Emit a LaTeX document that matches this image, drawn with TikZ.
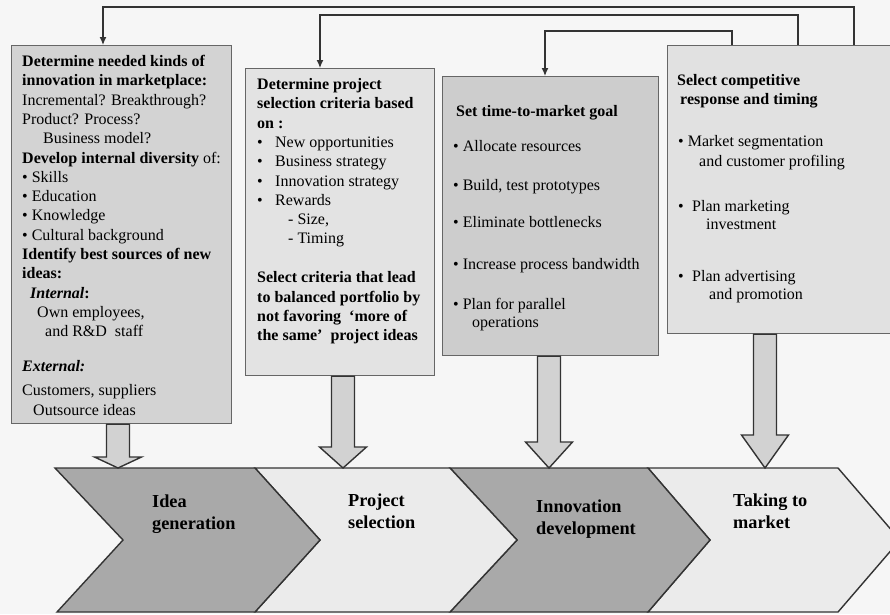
\documentclass[tikz,border=0pt]{standalone}
\usepackage{fontspec}
\setmainfont{Liberation Serif}
\usetikzlibrary{arrows.meta,calc}

\definecolor{bgcol}{HTML}{F6F6F6}
\definecolor{edgecol}{HTML}{666666}
\definecolor{linecol}{HTML}{333333}
\definecolor{boxA}{HTML}{D3D3D3}
\definecolor{boxB}{HTML}{E3E3E3}
\definecolor{boxC}{HTML}{CDCDCD}
\definecolor{boxD}{HTML}{E1E1E1}
\definecolor{chevdark}{HTML}{A9A9A9}
\definecolor{chevlight}{HTML}{EBEBEB}
\definecolor{arrowfill}{HTML}{D2D2D2}

\tikzset{
  infobox/.style={draw=edgecol, line width=1.2pt, inner sep=0pt, anchor=north west},
  boxtext/.style={anchor=base west, inner sep=0pt, text=black},
  feedback/.style={draw=linecol, line width=1.3pt, -{Latex[length=8pt,width=7pt]}},
  chevron/.style={draw=linecol, line width=1.4pt, line join=miter},
  stagelabel/.style={anchor=base west, inner sep=0pt, align=left,
    font=\fontsize{18.3}{22}\selectfont\bfseries},
  fatarrow/.style={draw=linecol, line width=1.4pt, fill=arrowfill, line join=miter}
}

% block arrow from the bottom of a box down to a point on a stage
% #1 box name, #2 tip coordinate, #3 head height
\newcommand{\fatdown}[3]{%
  \draw[fatarrow]
    ($(#1.south -| #2)+(-11.5,0)$) -- ($(#2)+(-11.5,-#3)$) --
    ($(#2)+(-23.5,-#3)$) -- (#2) -- ($(#2)+(23.5,-#3)$) --
    ($(#2)+(11.5,-#3)$) -- ($(#1.south -| #2)+(11.5,0)$) -- cycle;}

\newcommand{\txtfont}{\fontsize{16}{19.3}\selectfont}

\begin{document}
\begin{tikzpicture}[x=1pt,y=-1pt]
  % page background
  \fill[bgcol] (0,0) rectangle (890,614);
  \useasboundingbox (0,0) rectangle (890,614);

  % the four activity boxes
  \node[infobox, fill=boxA, minimum width=220pt, minimum height=378pt] (box1) at (11,45) {};
  \node[infobox, fill=boxB, minimum width=189pt, minimum height=307pt] (box2) at (245,68) {};
  \node[infobox, fill=boxC, minimum width=216pt, minimum height=279pt] (box3) at (442,76) {};
  \node[infobox, fill=boxD, minimum width=230pt, minimum height=288pt] (box4) at (667,45) {};

  % box texts
  \node[boxtext] (t1) at (22,66.5) {\parbox[t]{215pt}{\txtfont\raggedright
    \textbf{Determine needed kinds of}\\
    \textbf{innovation in marketplace:}\\
    Incremental? Breakthrough?\\
    Product? Process?\\
    \hspace*{21pt}Business model?\\
    \textbf{Develop internal diversity} of:\\
    • Skills\\
    • Education\\
    • Knowledge\\
    • Cultural background\\
    \textbf{Identify best sources of new}\\
    \textbf{ideas:}\\
    \hspace*{8pt}\textbf{\textit{Internal}:}\\
    \hspace*{15pt}Own employees,\\
    \hspace*{23pt}and R\&D~ staff\\[15.7pt]
    \textbf{\textit{External:}}\\[4.7pt]
    Customers, suppliers\\
    \hspace*{11pt}Outsource ideas}};

  \node[boxtext] (t2) at (257,89.5) {\parbox[t]{185pt}{\txtfont\raggedright
    \textbf{Determine project}\\
    \textbf{selection criteria based}\\
    \textbf{on :}\\
    \makebox[18pt][l]{•}New opportunities\\
    \makebox[18pt][l]{•}Business strategy\\
    \makebox[18pt][l]{•}Innovation strategy\\
    \makebox[18pt][l]{•}Rewards\\
    \hspace*{31pt}- Size,\\
    \hspace*{31pt}- Timing\\[19.7pt]
    \textbf{Select criteria that lead}\\
    \textbf{to balanced portfolio by}\\
    \textbf{not favoring~ ‘more of}\\
    \textbf{the same’~ project ideas}}};

  \node[boxtext] (t3) at (453,116) {\parbox[t]{205pt}{\txtfont\raggedright
    \hspace*{3pt}\textbf{Set time-to-market goal}\\[15.7pt]
    • Allocate resources\\[19.7pt]
    • Build, test prototypes\\[17.7pt]
    • Eliminate bottlenecks\\[22.7pt]
    • Increase process bandwidth\\[20.7pt]
    • Plan for parallel\\[-1.3pt]
    \hspace*{19pt}operations}};

  \node[boxtext] (t4) at (677,85.5) {\parbox[t]{210pt}{\txtfont\raggedright
    \textbf{Select competitive}\\
    \hspace*{3pt}\textbf{response and timing}\\[22.7pt]
    \hspace*{1pt}• Market segmentation\\[0.7pt]
    \hspace*{22pt}and customer profiling\\[25.7pt]
    \hspace*{1pt}\makebox[14pt][l]{•}Plan marketing\\[-1.3pt]
    \hspace*{29pt}investment\\[32.7pt]
    \hspace*{1pt}\makebox[14pt][l]{•}Plan advertising\\[-1.3pt]
    \hspace*{32pt}and promotion}};

  % feedback connectors from the market stage back to the earlier boxes
  \draw[feedback] ([xshift=187pt]box4.north west) -- ++(0,-38) -| ([xshift=92pt]box1.north west);
  \draw[feedback] ([xshift=131pt]box4.north west) -- ++(0,-30) -| ([xshift=75pt]box2.north west);
  \draw[feedback] ([xshift=65pt]box4.north west) -- ++(0,-14) -| ([xshift=103pt]box3.north west);

  % process stages (chevrons)
  \draw[chevron, fill=chevlight] (648,468) -- (838,468) -- (900,540) -- (838,612) -- (648,612) -- (710,540) -- cycle;
  \draw[chevron, fill=chevdark]  (450,468) -- (648,468) -- (710,540) -- (648,612) -- (450,612) -- (517,540) -- cycle;
  \draw[chevron, fill=chevlight] (255,468) -- (450,468) -- (517,540) -- (450,612) -- (255,612) -- (320,540) -- cycle;
  \draw[chevron, fill=chevdark]  (55,468) -- (255,468) -- (320,540) -- (255,612) -- (57,612) -- (123,540) -- cycle;

  \node[stagelabel] (s1) at (152,529) {Idea\\generation};
  \node[stagelabel] (s2) at (348,528) {Project\\selection};
  \node[stagelabel] (s3) at (536,534) {Innovation\\development};
  \node[stagelabel] (s4) at (733,528) {Taking to\\market};

  % entry points of the block arrows on the stages
  \coordinate (in1) at (118,468);
  \coordinate (in2) at (343,468);
  \coordinate (in3) at (549,468);
  \coordinate (in4) at (765,468);

  \fatdown{box1}{in1}{11}
  \fatdown{box2}{in2}{21}
  \fatdown{box3}{in3}{26}
  \fatdown{box4}{in4}{33}
\end{tikzpicture}
\end{document}
